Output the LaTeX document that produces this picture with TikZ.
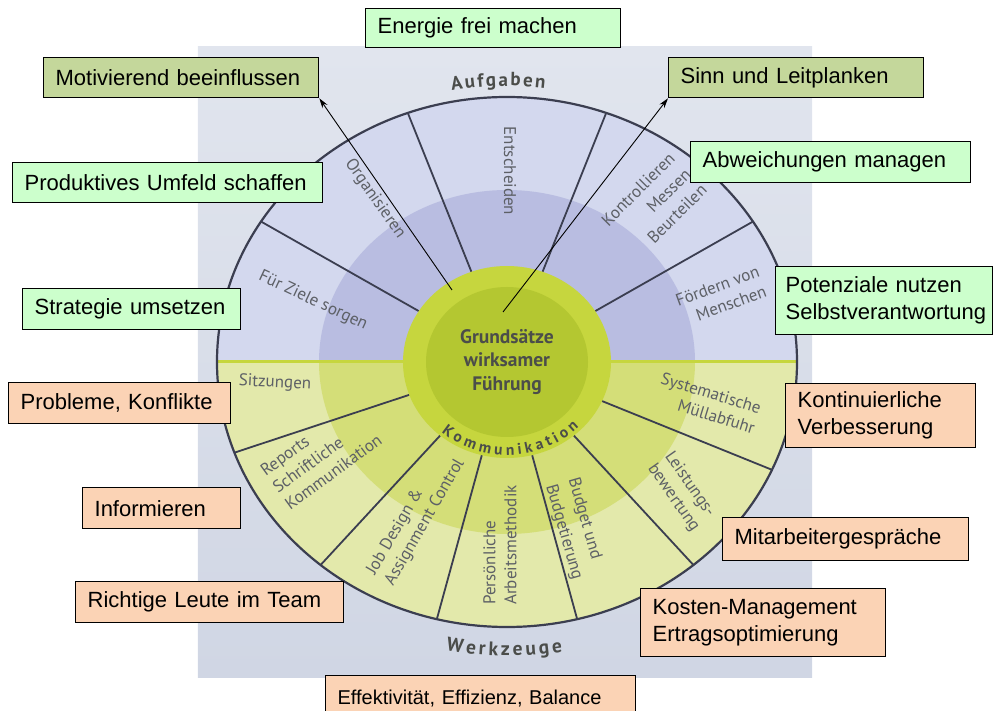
\documentclass[tikz,border=0pt]{standalone}
\usepackage{fontspec}
\setmainfont{Liberation Sans}
\newfontfamily\ptsans{PT Sans}
\usetikzlibrary{decorations.text,arrows.meta}
\definecolor{FPhotoTop}{HTML}{E1E5EE}
\definecolor{FPhotoBot}{HTML}{D0D6E4}
\definecolor{FBlueOut}{HTML}{D3D8EE}
\definecolor{FBlueMid}{HTML}{B9BDE1}
\definecolor{FGreenOut}{HTML}{E3E9AB}
\definecolor{FGreenMid}{HTML}{D4DE78}
\definecolor{FCoreOut}{HTML}{C6D63E}
\definecolor{FCoreIn}{HTML}{B4C731}
\definecolor{FSpoke}{HTML}{3B3E50}
\definecolor{FLabel}{HTML}{5D6066}
\definecolor{FTitle}{HTML}{4B4D4A}
\definecolor{BoxGreen}{HTML}{CCFFCC}
\definecolor{BoxOlive}{HTML}{C4D79B}
\definecolor{BoxPeach}{HTML}{FBD3B5}

\begin{document}
\begin{tikzpicture}[x=1pt,y=1pt,
  box/.style={draw=black,line width=1.3pt,anchor=north west,align=left,
    inner xsep=12pt,inner ysep=0pt,minimum height=40pt,
    font=\fontsize{22}{27}\selectfont},
  sector/.style={font=\ptsans\fontsize{17}{21}\selectfont,text=FLabel,align=center,inner sep=0pt},
  spoke/.style={FSpoke,line width=1.8pt},
  hint/.style={-{Stealth[length=10pt,width=6pt]},line width=0.9pt}]
\path[use as bounding box] (-507,-349) rectangle (493,362);
% photo of the wheel
\shade[top color=FPhotoTop,bottom color=FPhotoBot] (-309,-315) rectangle (305,315);
\begin{scope}
\clip (-300,0) rectangle (300,300);
\fill[FBlueOut] (0,0) ellipse [x radius=290,y radius=265];
\fill[FBlueMid] (0,0) ellipse [x radius=188,y radius=172];
\end{scope}
\begin{scope}
\clip (-300,0) rectangle (300,-300);
\fill[FGreenOut] (0,0) ellipse [x radius=290,y radius=265];
\fill[FGreenMid] (0,0) ellipse [x radius=188,y radius=172];
\end{scope}
\draw[FCoreOut,line width=3pt] (-289,0) -- (289,0);
\foreach \a in {32,70,110,148,200,230,256,284,310,336}
  \draw[spoke] (\a:104 and 96) -- (\a:290 and 265);
\draw[FSpoke,line width=2.2pt] (0,0) ellipse [x radius=290,y radius=265];
\fill[FCoreOut] (0,0) ellipse [x radius=104,y radius=96];
\fill[FCoreIn] (0,0) ellipse [x radius=81,y radius=75];
\node[font=\ptsans\bfseries\fontsize{19.5}{23.5}\selectfont,text=FTitle,align=center] (core) at (0,0)
  {Grundsätze\\wirksamer\\Führung};
% curved titles
\path[decorate,decoration={text along path,text align=fit to path,text color=FTitle,
  text={|\ptsans\bfseries\fontsize{19}{19}\selectfont|Aufgaben}}]
  (100.5:303 and 276) arc[start angle=100.5,end angle=82.8,x radius=303,y radius=276];
\path[decorate,decoration={text along path,text align=fit to path,text color=FTitle,
  text={|\ptsans\bfseries\fontsize{19.5}{19.5}\selectfont|Werkzeuge}}]
  (259:320 and 294) arc[start angle=259,end angle=280,x radius=320,y radius=294];
\path[decorate,decoration={text along path,text align=fit to path,text color=FTitle,
  text={|\ptsans\bfseries\fontsize{15.5}{15.5}\selectfont|Kommunikation}}]
  (229:100 and 93) arc[start angle=229,end angle=316,x radius=100,y radius=93];
% sector labels
\node[sector,rotate=-90] (entscheiden) at (3,191) {Entscheiden};
\node[sector,rotate=-55] (organisieren) at (-132,163) {Organisieren};
\node[sector,rotate=-25] (ziele) at (-194,61) {Für Ziele sorgen};
\node[sector,rotate=45,align=right,font=\ptsans\fontsize{17}{22.5}\selectfont] (kontrolle) at (147,157) {Kontrollieren\\Messen\\Beurteilen};
\node[sector,rotate=20,align=right] (foerdern) at (214,66) {Fördern von\\Menschen};
\node[sector,rotate=-3] (sitzungen) at (-232,-21) {Sitzungen};
\node[sector,rotate=36,align=left] (reports) at (-186,-93) {Reports\\Schriftliche\\Kommunikation};
\node[sector,rotate=60,align=left] (jobdesign) at (-91,-155) {Job Design \&\\Assignment Control};
\node[sector,rotate=90,align=left] (methodik) at (-7,-183) {Persönliche\\Arbeitsmethodik};
\node[sector,rotate=-74,align=left,font=\ptsans\fontsize{17}{23.5}\selectfont] (budget) at (68,-167) {Budget und\\Budgetierung};
\node[sector,rotate=-55,align=left] (leistung) at (175,-130) {Leistungs-\\bewertung};
\node[sector,rotate=-17,align=right] (muell) at (201,-41) {Systematische\\Müllabfuhr};
% boxes
\node[box,fill=BoxGreen,text width=231pt,minimum height=39pt] (energie) at (-142,354) {Energie frei machen};
\node[box,fill=BoxOlive,text width=251pt] (motiv) at (-464,305) {Motivierend beeinflussen};
\node[box,fill=BoxOlive,text width=231pt] (sinn) at (161,305) {Sinn und Leitplanken};
\node[box,fill=BoxGreen,text width=286pt] (umfeld) at (-495,200) {Produktives Umfeld schaffen};
\node[box,fill=BoxGreen,text width=256pt,minimum height=41pt] (abweichung) at (183,221) {Abweichungen managen};
\node[box,fill=BoxGreen,text width=194pt,minimum height=41pt] (strategie) at (-485,74) {Strategie umsetzen};
\node[box,fill=BoxGreen,text width=197pt,minimum height=68pt,inner xsep=10pt] (potenzial) at (268,96) {Potenziale nutzen\\Selbstverantwortung};
\node[box,fill=BoxPeach,text width=198pt,minimum height=41pt] (probleme) at (-499,-20) {Probleme, Konflikte};
\node[box,fill=BoxPeach,text width=166pt,minimum height=64pt] (kvp) at (278,-21) {Kontinuierliche\\Verbesserung};
\node[box,fill=BoxPeach,text width=134pt,minimum height=41pt] (informieren) at (-425,-125) {Informieren};
\node[box,fill=BoxPeach,text width=222pt,minimum height=43pt] (gespraeche) at (215,-155) {Mitarbeitergespräche};
\node[box,fill=BoxPeach,text width=244pt,minimum height=41pt] (leute) at (-432,-219) {Richtige Leute im Team};
\node[box,fill=BoxPeach,text width=221pt,minimum height=68pt] (kosten) at (133,-226) {Kosten-Management\\Ertragsoptimierung};
\node[box,fill=BoxPeach,text width=286pt,minimum height=45pt,font=\fontsize{20}{24}\selectfont] (balance) at (-182,-313) {Effektivität, Effizienz, Balance};
% arrows from the core
\coordinate (motivfoot) at (-55,72);
\coordinate (sinnfoot) at (-4,50);
\draw[hint] (motivfoot) -- (motiv.south east);
\draw[hint] (sinnfoot) -- (sinn.south west);
\end{tikzpicture}
\end{document}
